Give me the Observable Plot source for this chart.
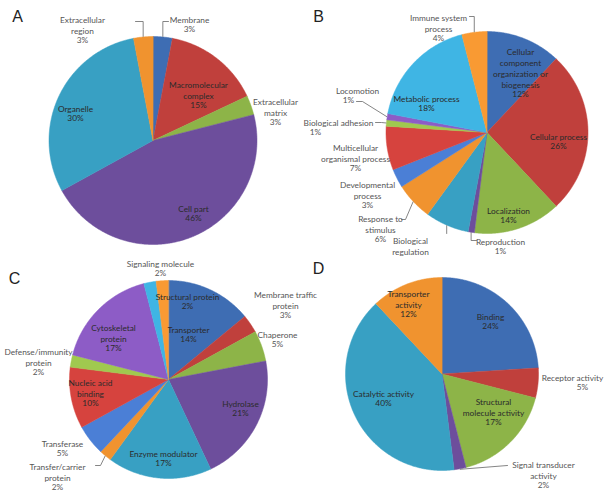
<!DOCTYPE html>
<html><head><meta charset="utf-8">
<script src="https://cdn.jsdelivr.net/npm/d3@7"></script>
<script src="https://cdn.jsdelivr.net/npm/@observablehq/plot@0.6"></script>
<style>
html,body{margin:0;padding:0;background:#fff;}
#chart{width:613px;height:502px;overflow:hidden;}
</style></head><body><div id="chart"></div>
<script>
// ---------- DATA ----------
const panelLetters = ["A", "B", "C", "D"];

const aCategories = ["Membrane", "Macromolecular\ncomplex", "Extracellular\nmatrix", "Cell part", "Organelle", "Extracellular\nregion"];
const aValues = [3, 15, 3, 46, 30, 3];

const bCategories = ["Cellular\ncomponent\norganization or\nbiogenesis", "Cellular process", "Localization", "Reproduction",
  "Biological\nregulation", "Response to\nstimulus", "Developmental\nprocess", "Multicellular\norganismal process",
  "Biological adhesion", "Locomotion", "Metabolic process", "Immune system\nprocess"];
const bValues = [12, 26, 14, 1, 7, 6, 3, 7, 1, 1, 18, 4];

const cCategories = ["Transporter", "Membrane traffic\nprotein", "Chaperone", "Hydrolase", "Enzyme modulator",
  "Transfer/carrier\nprotein", "Transferase", "Nucleic acid\nbinding", "Defense/immunity\nprotein",
  "Cytoskeletal\nprotein", "Signaling molecule", "Structural protein"];
const cValues = [14, 3, 5, 21, 17, 2, 5, 10, 2, 17, 2, 2];

const dCategories = ["Binding", "Receptor activity", "Structural\nmolecule activity", "Signal transducer\nactivity",
  "Catalytic activity", "Transporter\nactivity"];
const dValues = [24, 5, 17, 2, 40, 12];

// ---------- STYLE / LAYOUT ----------
const palette = ["#3e6db3", "#c0403c", "#8db448", "#6d4e9c", "#38a0c3", "#f0932f",
                 "#4b7fd6", "#d6433e", "#a0c94f", "#8d5cc6", "#3fb5e4", "#f99a33"];
const FONT = "Lato, 'Open Sans', sans-serif";
const FS = 8.3, LH = 11;

const layout = [
  { cats: aCategories, vals: aValues, cx: 152.5, cy: 140, r: 104, letter: [17, 21],
    labels: [
      {x: 189, y: 18}, {x: 198, y: 83, inside: true}, {x: 275, y: 100}, {x: 193, y: 207, inside: true},
      {x: 75, y: 107, inside: true}, {x: 82, y: 18}
    ],
    leaders: [ {i: 5, pts: [["arc", 21], [135, 21]]}, {i: 0, pts: [["arc", 21], [168, 21]]} ] },
  { cats: bCategories, vals: bValues, cx: 486.5, cy: 132, r: 101, letter: [318, 21],
    labels: [
      {x: 520, y: 50, inside: true}, {x: 558, y: 135, inside: true}, {x: 508, y: 209, inside: true},
      {x: 500, y: 240}, {x: 410, y: 239, pct: false}, {x: 380, y: 217}, {x: 367, y: 183},
      {x: 355, y: 146}, {x: 338, y: 121, px: 315}, {x: 357, y: 89, px: 348},
      {x: 426, y: 97, inside: true}, {x: 438, y: 16}
    ],
    leaders: [
      {i: 11, pts: [["arc", 16], [469, 16]]}, {i: 9, pts: [[362, 101], [356, 101]]},
      {i: 8, pts: [[381, 122], [375, 122]]}, {i: 5, pts: [[405, 219], [401, 219]]},
      {i: 4, pts: [["arc", 233]]}, {i: 3, pts: [["arc", 240], [476, 240]]}
    ] },
  { cats: cCategories, vals: cValues, cx: 168, cy: 379, r: 99, letter: [14, 283],
    labels: [
      {x: 188, y: 328, inside: true}, {x: 285, y: 293}, {x: 277, y: 333}, {x: 240, y: 402, inside: true},
      {x: 163, y: 452, inside: true}, {x: 57, y: 465}, {x: 62, y: 442}, {x: 90, y: 381, inside: true},
      {x: 38, y: 350}, {x: 113, y: 326, inside: true}, {x: 160, y: 262}, {x: 187, y: 295, inside: true}
    ],
    leaders: [ {i: 5, pts: [[100, 465], [95, 465]]} ] },
  { cats: dCategories, vals: dValues, cx: 441.5, cy: 373.5, r: 96.5, letter: [318, 273],
    labels: [
      {x: 490, y: 315, inside: true}, {x: 572, y: 376, px: 582}, {x: 493, y: 400, inside: true},
      {x: 543, y: 463}, {x: 383, y: 392, inside: true}, {x: 408, y: 292, inside: true}
    ],
    leaders: [ {i: 3, pts: [[507, 465]]} ] }
];

// ---------- BUILD ----------
const slicePts = [], nameTexts = [], pctTexts = [], leaderPts = [], letters = [];
layout.forEach((p, pi) => {
  const arcs = d3.pie().sort(null).startAngle(0).endAngle(2 * Math.PI)(p.vals);
  const pt = (a, rr) => [p.cx + rr * Math.sin(a), p.cy - rr * Math.cos(a)];
  arcs.forEach((a, i) => {
    const key = pi + "-" + i, color = palette[i];
    slicePts.push({key, color, x: p.cx, y: p.cy});
    const n = Math.max(2, Math.ceil((a.endAngle - a.startAngle) / (Math.PI / 360)));
    for (let k = 0; k <= n; k++) {
      const t = a.startAngle + (a.endAngle - a.startAngle) * k / n;
      const [x, y] = pt(t, p.r);
      slicePts.push({key, color, x, y});
    }
    const lab = p.labels[i];
    const nl = p.cats[i].split("\n").length;
    const col = lab.inside ? "#2b2b2b" : "#555555";
    nameTexts.push({x: lab.x, y: lab.y - 3.7, text: p.cats[i], col});
    if (lab.pct !== false)
      pctTexts.push({x: lab.px ?? lab.x, y: lab.y + nl * LH - 3.7, text: p.vals[i] + "%", col});
  });
  p.leaders.forEach((l, li) => {
    const a = arcs[l.i];
    const [ax, ay] = pt((a.startAngle + a.endAngle) / 2, p.r + 0.5);
    const key = pi + "-L" + li;
    leaderPts.push({key, x: ax, y: ay});
    l.pts.forEach(([x, y]) => leaderPts.push({key, x: x === "arc" ? ax : x, y}));
  });
  letters.push({x: p.letter[0], y: p.letter[1], text: panelLetters[pi]});
});

const chart = Plot.plot({
  width: 613, height: 502,
  marginTop: 0, marginRight: 0, marginBottom: 0, marginLeft: 0,
  x: {domain: [0, 613], range: [0, 613], axis: null},
  y: {domain: [0, 502], range: [0, 502], axis: null},
  color: {type: "identity"},
  style: {fontFamily: FONT, background: "#fff"},
  marks: [
    Plot.line(slicePts, {x: "x", y: "y", z: "key", fill: "color", stroke: "color", strokeWidth: 0.5, curve: "linear-closed"}),
    Plot.line(leaderPts, {x: "x", y: "y", z: "key", stroke: "#666", strokeWidth: 0.8}),
    Plot.text(nameTexts, {x: "x", y: "y", text: "text", fill: "col", fontSize: FS, lineAnchor: "top", lineHeight: LH / FS}),
    Plot.text(pctTexts, {x: "x", y: "y", text: "text", fill: "col", fontSize: FS, lineAnchor: "top"}),
    Plot.text(letters, {x: "x", y: "y", text: "text", fill: "#222", fontSize: 16, fontFamily: "'Liberation Sans', Arial, sans-serif", lineAnchor: "bottom"})
  ]
});
document.getElementById("chart").appendChild(chart);
</script>
</body></html>
